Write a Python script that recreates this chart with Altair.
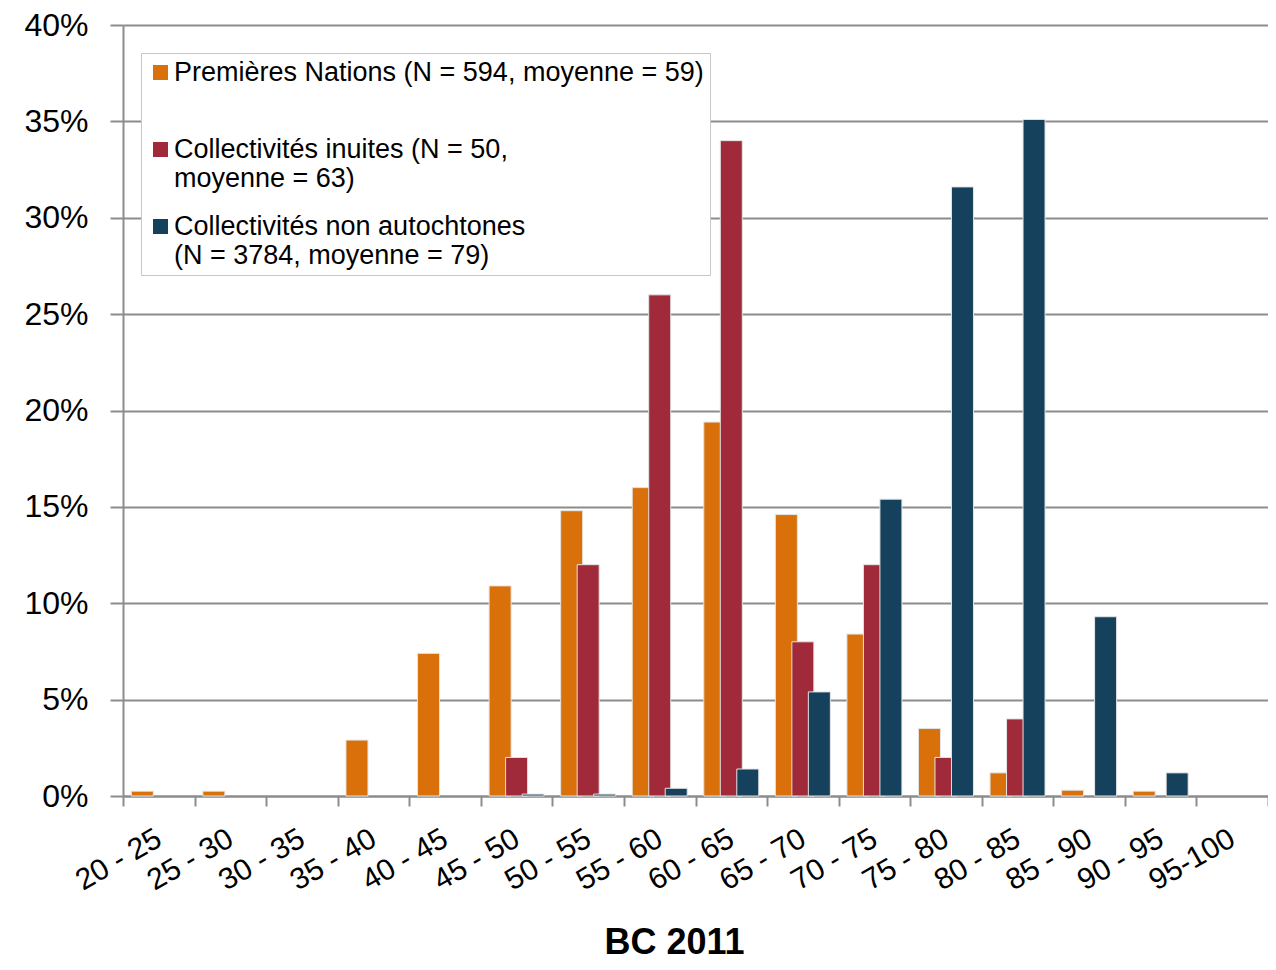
import altair as alt
import pandas as pd

categories = ["20 - 25", "25 - 30", "30 - 35", "35 - 40", "40 - 45", "45 - 50",
              "50 - 55", "55 - 60", "60 - 65", "65 - 70", "70 - 75", "75 - 80",
              "80 - 85", "85 - 90", "90 - 95", "95-100"]
premieres_nations = [0.25, 0.25, 0, 2.9, 7.4, 10.9, 14.8, 16.0, 19.4, 14.6, 8.4, 3.5, 1.2, 0.3, 0.25, 0]
inuites = [0, 0, 0, 0, 0, 2.0, 12.0, 26.0, 34.0, 8.0, 12.0, 2.0, 4.0, 0, 0, 0]
non_autochtones = [0, 0, 0, 0, 0, 0.1, 0.1, 0.4, 1.4, 5.4, 15.4, 31.6, 35.1, 9.3, 1.2, 0]
series_names = ["Premières Nations (N = 594, moyenne = 59)|",
                "Collectivités inuites (N = 50,|moyenne = 63)",
                "Collectivités non autochtones|(N = 3784, moyenne = 79)"]
series_values = [premieres_nations, inuites, non_autochtones]
colors = ["#D9700A", "#A12A3A", "#16415C"]
y_ticks = [0, 5, 10, 15, 20, 25, 30, 35, 40]

rows = []
for name, vals in zip(series_names, series_values):
    for c, v in zip(categories, vals):
        rows.append({"cat": c, "series": name, "value": v})
df = pd.DataFrame(rows)

FONT = "Liberation Sans"
GRAY = "#8c8c8c"

x = alt.X("cat:N", sort=categories,
          scale=alt.Scale(domain=categories, paddingInner=0, paddingOuter=0),
          axis=alt.Axis(title="BC 2011", titleFont=FONT, titleFontSize=36,
                        titleFontWeight="bold", titleColor="black",
                        titleX=551, titleY=146, titleAlign="center", titleBaseline="middle",
                        labelAngle=-30, labelAlign="right", labelBaseline="middle",
                        labelFont=FONT, labelFontSize=30, labelColor="black",
                        labelPadding=30, tickBand="extent", tickSize=10,
                        tickColor=GRAY, tickWidth=2, domainColor=GRAY, domainWidth=2,
                        grid=False))
y = alt.Y("value:Q", scale=alt.Scale(domain=[0, 40]),
          axis=alt.Axis(title=None, values=y_ticks, labelExpr="datum.value + '%'",
                        labelFont=FONT, labelFontSize=32, labelColor="black",
                        labelPadding=22, tickSize=13, tickColor=GRAY, tickWidth=2,
                        domainColor=GRAY, domainWidth=2,
                        grid=True, gridColor=GRAY, gridWidth=2))
color = alt.Color("series:N",
                  scale=alt.Scale(domain=series_names, range=colors),
                  legend=alt.Legend(title=None, orient="none", legendX=18, legendY=28,
                                    fillColor="white", strokeColor="#c8c8c8",
                                    padding=6, symbolType="square", symbolSize=225,
                                    symbolStrokeWidth=0, labelFont=FONT,
                                    labelFontSize=27, labelColor="black",
                                    labelLimit=900, labelOffset=0, rowPadding=20,
                                    labelExpr="split(datum.label, '|')"))

layers = []
for name, off in zip(series_names, [-16.5, 0, 16.5]):
    layers.append(
        alt.Chart(df)
        .transform_filter(alt.datum.series == name)
        .transform_filter("datum.value > 0")
        .mark_bar(width=22, xOffset=off, stroke="#e4e4e4", strokeWidth=1)
        .encode(x=x, y=y, color=color)
    )

chart = (
    alt.layer(*layers)
    .properties(width=1145, height=771,
                autosize=alt.AutoSizeParams(type="none"),
                padding={"left": 115, "top": 17, "right": 0, "bottom": 166})
    .configure_view(stroke=None)
)

chart.save("out.html", embed_options={"renderer": "svg", "actions": False})
